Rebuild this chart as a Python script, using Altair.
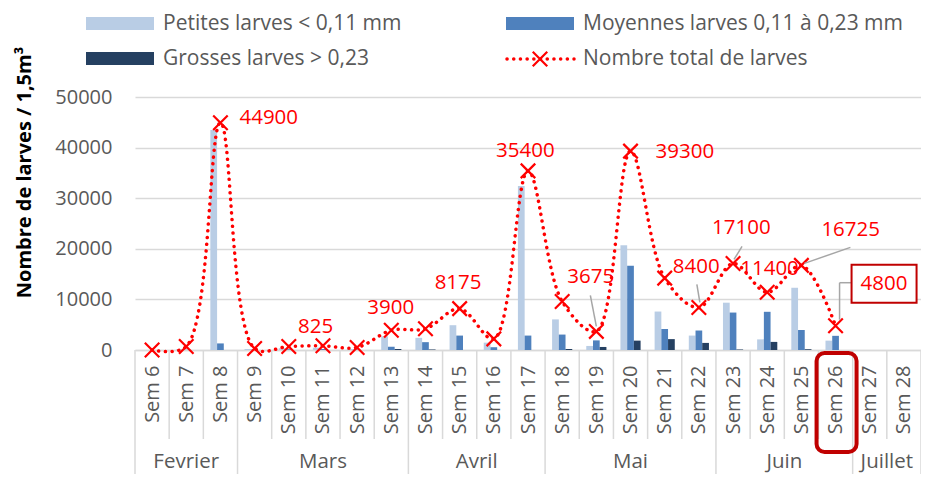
import altair as alt
import pandas as pd

# ---------------- data ----------------
weeks = ["Sem 6", "Sem 7", "Sem 8", "Sem 9", "Sem 10", "Sem 11", "Sem 12", "Sem 13",
         "Sem 14", "Sem 15", "Sem 16", "Sem 17", "Sem 18", "Sem 19", "Sem 20", "Sem 21",
         "Sem 22", "Sem 23", "Sem 24", "Sem 25", "Sem 26", "Sem 27", "Sem 28"]
months = ["Fevrier", "Mars", "Avril", "Mai", "Juin", "Juillet"]
month_lengths = [3, 5, 4, 5, 4, 2]

series_names = ["Petites larves < 0,11 mm", "Moyennes larves 0,11 à 0,23 mm",
                "Grosses larves > 0,23"]
total_name = "Nombre total de larves"

petites = [0, 150, 43500, 200, 350, 450, 200, 2700, 2400, 4900, 1450, 32400,
           6050, 800, 20700, 7600, 2850, 9350, 2100, 12300, 1850, None, None]
moyennes = [0, 50, 1300, 100, 150, 200, 100, 650, 1550, 2850, 550, 2850,
            3050, 1900, 16650, 4150, 3850, 7400, 7550, 3950, 2800, None, None]
grosses = [0, 0, 0, 0, 0, 0, 0, 200, 100, 0, 0, 0,
           200, 600, 1850, 2150, 1400, 100, 1600, 150, 0, None, None]
totals = [0, 700, 44900, 300, 700, 825, 500, 3900, 4200, 8175, 2200, 35400,
          9600, 3675, 39300, 14200, 8400, 17100, 11400, 16725, 4800, None, None]

# weeks whose total carries a data label
labelled_weeks = ["Sem 8", "Sem 11", "Sem 13", "Sem 15", "Sem 17", "Sem 19", "Sem 20",
                  "Sem 22", "Sem 23", "Sem 24", "Sem 25", "Sem 26"]
boxed_week = "Sem 26"

# ---------------- style ----------------
W, H = 786, 253
YMAX = 50000
CW = W / len(weeks)
FONT = "Open Sans"
GREY_TXT = "#595959"
GRID = "#D9D9D9"
RED = "#FF0000"
DARKRED = "#C00000"
LEADER = "#A6A6A6"
bar_colors = ["#B9CDE5", "#4F81BD", "#254061"]
bar_offsets = [(-0.295, -0.098), (-0.098, 0.098), (0.098, 0.295)]

# label offsets in pixels (left edge of text, vertical centre) relative to marker
label_offsets = {
    "Sem 8": (19, -5), "Sem 11": (-25, -19), "Sem 13": (-24, -22),
    "Sem 15": (-25, -26), "Sem 17": (-32, -20), "Sem 19": (-29, -54),
    "Sem 20": (25, 1), "Sem 22": (-26, -40), "Sem 23": (-21, -35),
    "Sem 24": (-27, -23), "Sem 25": (20, -35), "Sem 26": (25, -42),
}
# leader lines in pixels relative to marker
leader_offsets = {
    "Sem 19": [((-6, -36), (0, -5))],
    "Sem 22": [((-2, -23), (1, -5))],
    "Sem 23": [((9, -17), (1, -4))],
    "Sem 25": [((49, -18), (3, -2))],
    "Sem 26": [((16, -43), (4, -43)), ((4, -43), (4, -6))],
}
box_offsets = ((16, -61), (81, -23))


def ux(px):
    return px / CW


def uy(px):
    return -px * YMAX / H


# ---------------- tables ----------------
rows = []
for i, w in enumerate(weeks):
    for s, vals, (o0, o1) in zip(series_names, [petites, moyennes, grosses], bar_offsets):
        if vals[i] is not None:
            rows.append({"week": w, "series": s, "x0": i + o0, "x1": i + o1, "value": vals[i]})
bars_df = pd.DataFrame(rows)

tot_df = pd.DataFrame([{"week": w, "idx": i, "total": t}
                       for i, (w, t) in enumerate(zip(weeks, totals)) if t is not None])

lab_rows = []
for w in labelled_weeks:
    i = weeks.index(w)
    dx, dy = label_offsets[w]
    lab_rows.append({"week": w, "lx": i + ux(dx), "ly": totals[i] + uy(dy),
                     "txt": str(totals[i])})
lab_df = pd.DataFrame(lab_rows)

lead_rows = []
for w, segs in leader_offsets.items():
    i = weeks.index(w)
    for (a, b) in segs:
        lead_rows.append({"xa": i + ux(a[0]), "xb": i + ux(b[0]),
                          "ya": totals[i] + uy(a[1]), "yb": totals[i] + uy(b[1])})
lead_df = pd.DataFrame(lead_rows)

bi = weeks.index(boxed_week)
box_df = pd.DataFrame([{"bx0": bi + ux(box_offsets[0][0]), "bx1": bi + ux(box_offsets[1][0]),
                        "by0": totals[bi] + uy(box_offsets[0][1]),
                        "by1": totals[bi] + uy(box_offsets[1][1])}])
hl_df = pd.DataFrame([{"hx0": bi - ux(19), "hx1": bi + ux(21)}])

m_rows, bnd_long, bnd_short = [], [-0.5], []
start = 0
for m, n in zip(months, month_lengths):
    m_rows.append({"month": m, "mx": start + (n - 1) / 2})
    for k in range(start, start + n - 1):
        bnd_short.append(k + 0.5)
    start += n
    bnd_long.append(start - 0.5)
month_df = pd.DataFrame(m_rows)
long_df = pd.DataFrame({"b": bnd_long})
short_df = pd.DataFrame({"b": bnd_short})

# ---------------- scales / axes ----------------
xscale = alt.Scale(domain=[-0.5, len(weeks) - 0.5], nice=False, zero=False)
yscale = alt.Scale(domain=[0, YMAX], nice=False)
label_expr = "[" + ",".join("'" + w + "'" for w in weeks) + "][datum.value]"

xaxis = alt.Axis(values=list(range(len(weeks))), labelExpr=label_expr, labelAngle=270,
                 labelAlign="right", labelBaseline="middle", labelPadding=15,
                 ticks=False, tickSize=0, grid=False, domainColor=GRID, domainWidth=1.5,
                 labelFont=FONT, labelFontSize=20, labelColor=GREY_TXT,
                 labelOverlap=False, labelFlush=False, labelBound=False, title="")
yaxis = alt.Axis(values=[0, 10000, 20000, 30000, 40000, 50000], format="d", grid=True,
                 gridColor=GRID, gridWidth=1.3, domain=False, ticks=False, tickSize=0,
                 labelPadding=23, labelFont=FONT, labelFontSize=20, labelColor=GREY_TXT,
                 labelOverlap=False, labelFlush=False,
                 title="Nombre de larves / 1,5m³", titleFont=FONT, titleFontSize=20,
                 titleFontWeight="bold", titleColor="#000000", titleAngle=270,
                 titleX=-111, titleY=75, titleAlign="center", titleBaseline="middle")

X = lambda f: alt.X(f, scale=xscale, axis=xaxis)
Y = lambda f: alt.Y(f, scale=yscale, axis=yaxis)

color_scale = alt.Scale(domain=series_names, range=bar_colors)

bars = alt.Chart(bars_df).mark_bar().encode(
    x=X("x0:Q"), x2="x1:Q",
    y=Y("value:Q"), y2=alt.datum(0),
    color=alt.Color("series:N", scale=color_scale, legend=None),
)

div_short = alt.Chart(short_df).mark_rule(color=GRID, strokeWidth=1.5).encode(
    x=X("b:Q"), y=alt.value(H), y2=alt.value(H + 89))
div_long = alt.Chart(long_df).mark_rule(color=GRID, strokeWidth=1.5).encode(
    x=X("b:Q"), y=alt.value(H), y2=alt.value(H + 124))

month_txt = alt.Chart(month_df).mark_text(font=FONT, fontSize=20.5, color=GREY_TXT,
                                          baseline="middle", align="center").encode(
    x=X("mx:Q"), y=alt.value(H + 112), text="month:N")

line = alt.Chart(tot_df).mark_line(color=RED, strokeWidth=3.5, strokeDash=[0.1, 6.6],
                                   strokeCap="round", interpolate="catmull-rom").encode(
    x=X("idx:Q"), y=Y("total:Q"))

xmark = "M-1,-1L1,1M1,-1L-1,1"
points = alt.Chart(tot_df).mark_point(shape=xmark, filled=False, stroke=RED, strokeWidth=2.2,
                                      size=210, opacity=1).encode(
    x=X("idx:Q"), y=Y("total:Q"))

leaders = alt.Chart(lead_df).mark_rule(color=LEADER, strokeWidth=1.5).encode(
    x=X("xa:Q"), x2="xb:Q", y=Y("ya:Q"), y2="yb:Q")

box = alt.Chart(box_df).mark_rect(fill="#FFFFFF", stroke=DARKRED, strokeWidth=2).encode(
    x=X("bx0:Q"), x2="bx1:Q", y=Y("by0:Q"), y2="by1:Q")

labels = alt.Chart(lab_df).mark_text(font=FONT, fontSize=20.5, color=RED, align="left",
                                     baseline="middle").encode(
    x=X("lx:Q"), y=Y("ly:Q"), text="txt:N")

highlight = alt.Chart(hl_df).mark_rect(fillOpacity=0, stroke=DARKRED, strokeWidth=4,
                                       cornerRadius=8).encode(
    x=X("hx0:Q"), x2="hx1:Q", y=alt.value(256), y2=alt.value(355))

# ---------------- legend (manual) ----------------
LEG_FS = 21
legend_layers = []
leg_pos = [(-49, -80), (371, -80), (-49, -45)]
for name, col, (lx, ly) in zip(series_names, bar_colors, leg_pos):
    d = pd.DataFrame({"t": [name]})
    legend_layers.append(alt.Chart(d).mark_rect(color=col).encode(
        x=alt.value(lx), x2=alt.value(lx + 68), y=alt.value(ly), y2=alt.value(ly + 13)))
    legend_layers.append(alt.Chart(d).mark_text(font=FONT, fontSize=LEG_FS, color=GREY_TXT,
                                                align="left", baseline="middle").encode(
        x=alt.value(lx + 77), y=alt.value(ly + 7), text="t:N"))
dl = pd.DataFrame({"t": [total_name]})
legend_layers.append(alt.Chart(dl).mark_rule(color=RED, strokeWidth=3.5, strokeDash=[0.1, 6.6],
                                             strokeCap="round").encode(
    x=alt.value(372), x2=alt.value(439), y=alt.value(-38)))
legend_layers.append(alt.Chart(dl).mark_point(shape=xmark, filled=False, stroke=RED,
                                              strokeWidth=2.2, size=210, opacity=1).encode(
    x=alt.value(405), y=alt.value(-38)))
legend_layers.append(alt.Chart(dl).mark_text(font=FONT, fontSize=LEG_FS, color=GREY_TXT,
                                             align="left", baseline="middle").encode(
    x=alt.value(448), y=alt.value(-38), text="t:N"))

chart = alt.layer(
    bars, div_short, div_long, month_txt, line, points, leaders, box, labels, highlight,
    *legend_layers
).properties(
    width=W, height=H,
    padding={"left": 127, "top": 89, "right": 0, "bottom": 124},
    autosize=alt.AutoSizeParams(type="none"),
    background="#FFFFFF",
).configure_view(stroke=None)

chart.save("out.html", embed_options={"renderer": "svg", "actions": False})
